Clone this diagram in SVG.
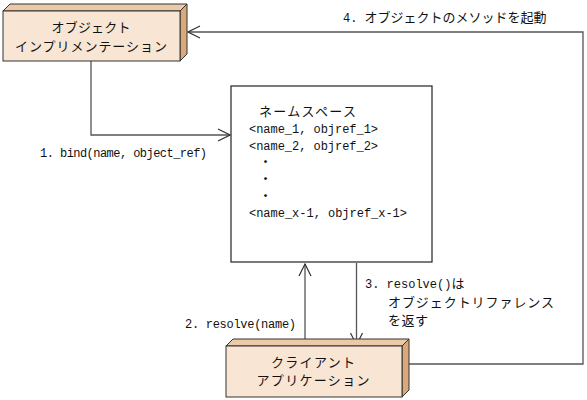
<svg xmlns="http://www.w3.org/2000/svg" width="587" height="400" viewBox="0 0 587 400">
<defs>
<style>
.front{fill:#F8E5D3;stroke:#333;stroke-width:1}
.top{fill:#EACAA8;stroke:#333;stroke-width:1}
.side{fill:#D9A97B;stroke:#333;stroke-width:1}
.jp{font-family:"Noto Sans CJK JP","Liberation Sans",sans-serif;font-size:13px;fill:#111}
.dot{font-family:"Noto Sans CJK JP","Liberation Sans",sans-serif;font-size:11px;fill:#111;font-weight:bold}
.mono{font-family:"Liberation Mono","Noto Sans CJK JP",monospace;font-size:12px;fill:#111}
.line{fill:none;stroke:#555;stroke-width:1.3}
</style>
<marker id="arr" markerWidth="14" markerHeight="14" refX="13" refY="7" orient="auto" markerUnits="userSpaceOnUse">
<path d="M1,1 L13,7 L1,13" fill="none" stroke="#333" stroke-width="1.2"/>
</marker>
</defs>
<rect width="587" height="400" fill="#fff"/>
<g id="connectors">
<polyline class="line" points="91,61 91,135 230,135" marker-end="url(#arr)"/>
<line class="line" x1="305" y1="346" x2="305" y2="264" marker-end="url(#arr)"/>
<line class="line" x1="356.5" y1="263" x2="356.5" y2="345" marker-end="url(#arr)"/>
<polyline class="line" points="409,364 583,364 583,32 188,32" marker-end="url(#arr)"/>
<text class="mono" x="40" y="157" textLength="167">1. bind(name, object_ref)</text>
<text class="mono" x="185" y="328" textLength="111">2. resolve(name)</text>
<text class="mono" x="365" y="288">3. resolve()<tspan class="jp">は</tspan></text>
<text class="jp" x="388" y="307" textLength="166">オブジェクトリファレンス</text>
<text class="jp" x="388" y="325" textLength="40">を返す</text>
<text class="mono" x="343" y="22">4. <tspan class="jp">オブジェクトのメソッドを起動</tspan></text>
</g>
<g id="object-impl">
<polygon class="top" points="3,11 10,4 187,4 180,11"/>
<polygon class="side" points="180,11 187,4 187,54 180,61"/>
<rect class="front" x="3" y="11" width="177" height="50"/>
<text class="jp" x="91" y="32" text-anchor="middle" textLength="79">オブジェクト</text>
<text class="jp" x="91" y="51" text-anchor="middle" textLength="152">インプリメンテーション</text>
</g>
<g id="namespace">
<rect x="231" y="86" width="201" height="176" fill="#fff" stroke="#333" stroke-width="1.3"/>
<text class="jp" x="259" y="116" textLength="97">ネームスペース</text>
<text class="mono" x="249" y="133" textLength="129">&lt;name_1, objref_1&gt;</text>
<text class="mono" x="249" y="150" textLength="129">&lt;name_2, objref_2&gt;</text>
<text class="dot" x="260" y="166">・</text>
<text class="dot" x="260" y="183">・</text>
<text class="dot" x="260" y="200">・</text>
<text class="mono" x="249" y="217" textLength="158">&lt;name_x-1, objref_x-1&gt;</text>
</g>
<g id="client-app">
<polygon class="top" points="226,346 233,339 409,339 402,346"/>
<polygon class="side" points="402,346 409,339 409,390 402,397"/>
<rect class="front" x="226" y="346" width="176" height="51"/>
<text class="jp" x="313" y="367" text-anchor="middle" textLength="84">クライアント</text>
<text class="jp" x="313" y="385" text-anchor="middle" textLength="113">アプリケーション</text>
</g>
</svg>
